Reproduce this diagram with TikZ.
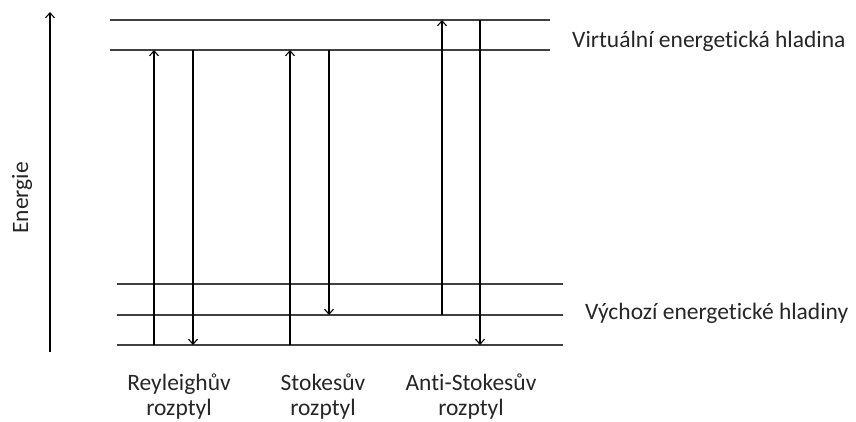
\documentclass[tikz,border=0pt]{standalone}
\usepackage{fontspec}
\setmainfont[Ligatures=NoCommon]{Carlito}
\usetikzlibrary{arrows.meta}
\begin{document}
\begin{tikzpicture}[x=1pt,y=-1pt,
  level/.style={line width=1.4pt,draw=black!75},
  trans/.style={line width=1.2pt,-{Straight Barb[length=5pt,width=9pt,line width=1.1pt]}},
  lbl/.style={font=\fontsize{23.5}{25}\selectfont,text=black!85,inner sep=0pt},
  caption/.style={lbl,align=center,anchor=base}]
\useasboundingbox (0,0) rectangle (856,421);

% energy axis
\coordinate (e0) at (50,352);
\coordinate (e1) at (50,12);
\draw[trans] (e0) -- (e1);
\node[lbl,rotate=90] (energie) at (22,198) {Energie};

% virtual levels
\coordinate (v1l) at (110,20);  \coordinate (v1r) at (550,20);
\coordinate (v2l) at (110,50);  \coordinate (v2r) at (550,50);
\draw[level] (v1l) -- (v1r);
\draw[level] (v2l) -- (v2r);

% ground levels
\coordinate (g1l) at (117,284); \coordinate (g1r) at (563,284);
\coordinate (g2l) at (117,315); \coordinate (g2r) at (563,315);
\coordinate (g3l) at (117,345); \coordinate (g3r) at (563,345);
\draw[level] (g1l) -- (g1r);
\draw[level] (g2l) -- (g2r);
\draw[level] (g3l) -- (g3r);

% Rayleigh
\coordinate (ra) at (154,345); \coordinate (rb) at (154,50);
\coordinate (rc) at (193,50);  \coordinate (rd) at (193,345);
\draw[trans] (ra) -- (rb);
\draw[trans] (rc) -- (rd);

% Stokes
\coordinate (sa) at (290,345); \coordinate (sb) at (290,50);
\coordinate (sc) at (329,50);  \coordinate (sd) at (329,315);
\draw[trans] (sa) -- (sb);
\draw[trans] (sc) -- (sd);

% anti-Stokes
\coordinate (aa) at (442,315); \coordinate (ab) at (442,20);
\coordinate (ac) at (480,20);  \coordinate (ad) at (480,345);
\draw[trans] (aa) -- (ab);
\draw[trans] (ac) -- (ad);

% labels (base anchor = baseline of the last line)
\node[lbl,anchor=west] (virt) at (572,41) {Virtuální energetická hladina};
\node[lbl,anchor=west] (vych) at (585,313) {Výchozí energetické hladiny};
\node[caption] (ray) at (179,415) {Reyleighův\\rozptyl};
\node[caption] (sto) at (323,415) {Stokesův\\rozptyl};
\node[caption] (ant) at (471,415) {Anti-Stokesův\\rozptyl};
\end{tikzpicture}
\end{document}
